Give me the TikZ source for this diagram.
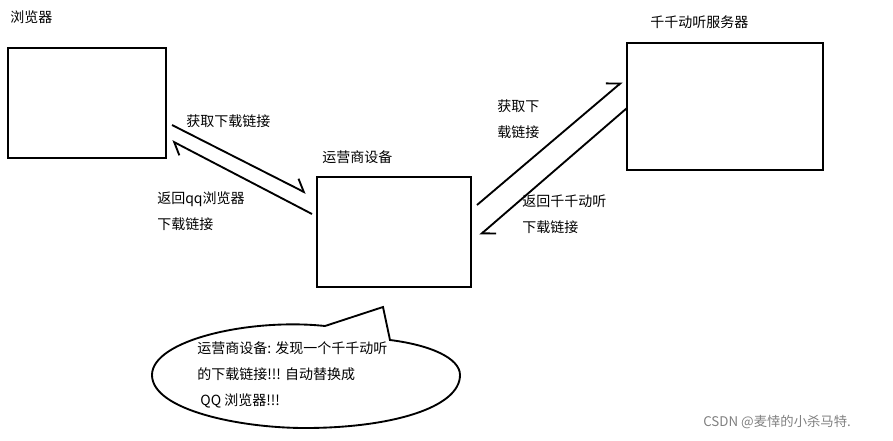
\documentclass[tikz,border=0pt]{standalone}
\usepackage{fontspec}
\setmainfont{Noto Sans CJK SC}
\usetikzlibrary{arrows.meta}
\begin{document}
\begin{tikzpicture}[x=0.75pt,y=-0.75pt,
  box/.style={draw, line width=1.4pt, inner sep=0pt},
  lbl/.style={font=\fontsize{10.5}{19.5}\selectfont, align=left, anchor=north west, inner sep=0pt},
  link/.style={line width=1.4pt, -{Straight Barb[left,length=8pt,width=14pt]}}]
\useasboundingbox (0,0) rectangle (893,440);

% boxes
\draw[line width=1.4pt] (8,48) rectangle (166,158);
\node[box, minimum width=115.5pt, minimum height=82.5pt] (op) at (394,232) {};
\draw[line width=1.4pt] (627,43) rectangle (823,170);
\node[lbl] (tbrowser) at (10,10) {浏览器};
\node[lbl] (tserver) at (650,15) {千千动听服务器};
\node[lbl] (top) at (322,150) {运营商设备};

% arrows
\coordinate (a1) at (172,125); \coordinate (b1) at (306,193);
\coordinate (a2) at (312,214); \coordinate (b2) at (172,141);
\coordinate (a3) at (477,205); \coordinate (b3) at (622,82);
\coordinate (a4) at (627,108); \coordinate (b4) at (480,235);
\draw[link] (a1) -- (b1);
\draw[link] (a2) -- (b2);
\draw[link] (a3) -- (b3);
\draw[link] (a4) -- (b4);
\node[lbl] (t1) at (186,114) {获取下载链接};
\node[lbl] (t2) at (157,191) {返回qq浏览器\\下载链接};
\node[lbl] (t3) at (497,99) {获取下\\载链接};
\node[lbl] (t4) at (522,195) {返回千千动听\\下载链接};

% callout
\draw[line width=1.4pt] (325,326)
  .. controls (250,318) and (152,340) .. (152,375)
  .. controls (152,410) and (240,428) .. (305,428)
  .. controls (390,428) and (460,408) .. (460,375)
  .. controls (460,358) and (430,345) .. (390,340)
  -- (383,307) -- (325,326);
\node[lbl] (tnote) at (197,341) {运营商设备: 发现一个千千动听\\的下载链接!!! 自动替换成\\\ QQ 浏览器!!!};

\node[lbl, text=gray, font=\fontsize{10}{12}\selectfont] (mark) at (703,415) {CSDN @麦悻的小杀马特.};
\end{tikzpicture}
\end{document}
